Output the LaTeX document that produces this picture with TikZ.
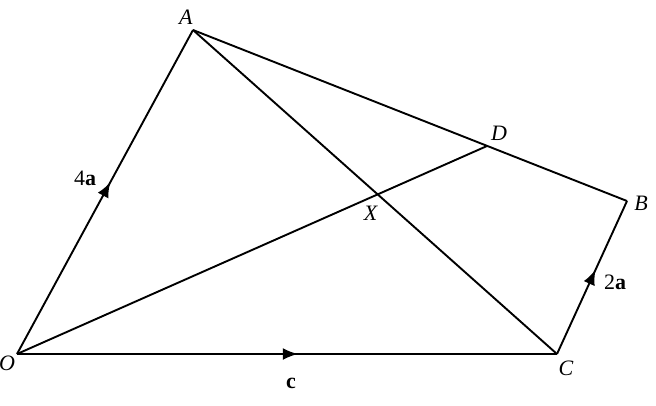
\documentclass[tikz,border=0pt]{standalone}
\usepackage{fontspec}
\setmainfont{Liberation Serif}
\usetikzlibrary{decorations.markings,arrows.meta,intersections}
\begin{document}
\begin{tikzpicture}[x=1pt,y=-1pt,
  seg/.style={line width=1.9pt},
  midarrow/.style={postaction={decorate},decoration={markings,mark=at position #1 with {\arrow{Latex[length=15pt,width=12pt]}}}},
  lbl/.style={font=\fontsize{22}{24}\selectfont}]
\useasboundingbox (0,0) rectangle (656,405);
\coordinate (O) at (17,354);
\coordinate (A) at (193,30);
\coordinate (C) at (557,354);
\coordinate (B) at (627,201);
\coordinate (D) at (487,146);
\draw[seg,midarrow=0.53] (O) -- (A);
\draw[seg] (A) -- (B);
\draw[seg,midarrow=0.52] (O) -- (C);
\draw[seg,midarrow=0.55] (C) -- (B);
\draw[seg,name path=ac] (A) -- (C);
\draw[seg,name path=od] (O) -- (D);
\path[name intersections={of=ac and od,by=X}];
\node[lbl,inner sep=0pt] (lO) at (7,363) {\textit{O}};
\node[lbl] (lA) at (186,17) {\textit{A}};
\node[lbl] (lC) at (566,368) {\textit{C}};
\node[lbl] (lB) at (641,203) {\textit{B}};
\node[lbl] (lD) at (499,133) {\textit{D}};
\node[lbl] (lX) at (371,213) {\textit{X}};
\node[lbl] (l4a) at (85,178) {4\textbf{a}};
\node[lbl] (lc) at (291,383) {\textbf{c}};
\node[lbl] (l2a) at (615,282) {2\textbf{a}};
\end{tikzpicture}
\end{document}
